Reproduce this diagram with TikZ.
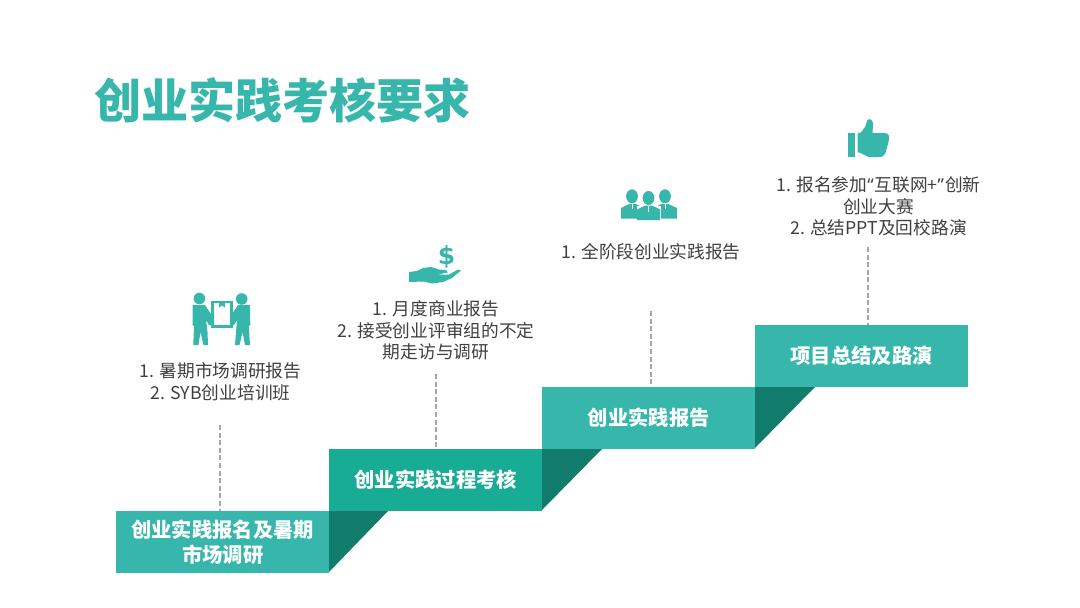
\documentclass[tikz,border=0pt]{standalone}
\usepackage{fontspec}
\setmainfont{Noto Sans CJK SC}
\newfontfamily\quotefont{Noto Sans}
\newfontfamily\dollarfont{DejaVu Sans}
\definecolor{teal1}{HTML}{37B7AB}
\definecolor{teal2}{HTML}{19AC94}
\definecolor{tealdark}{HTML}{127C6C}
\definecolor{bodytext}{HTML}{404040}
\definecolor{dashgray}{HTML}{A6A6A6}
\tikzset{
  stepbox/.style={rectangle,minimum width=213pt,minimum height=61.5pt,inner sep=0pt,anchor=north west,text=white,align=center,font=\fontsize{20.3}{25}\selectfont\bfseries},
  note/.style={anchor=center,align=center,inner sep=0pt,text=bodytext,font=\fontsize{17.7}{21.6}\selectfont},
  stem/.style={draw=dashgray,line width=2pt,dash pattern=on 5pt off 2.6pt},
  shade/.style={fill=tealdark,draw=none},
  icon/.style={fill=teal1,draw=none},
  gap/.style={draw=white,line width=.9pt}
}
\begin{document}
\begin{tikzpicture}[x=1pt,y=-1pt]
\useasboundingbox (0,0) rectangle (1080,608);
\fill[white] (0,0) rectangle (1080,608);
\node[anchor=west,inner sep=0pt,text=teal1,font=\fontsize{47.1}{50}\selectfont\bfseries] (title) at (94,100.5) {创业实践考核要求};

% steps
\node[stepbox,fill=teal1] (s1) at (116,511) {创业实践报名及暑期\\市场调研};
\node[stepbox,fill=teal2] (s2) at (329,449) {创业实践过程考核};
\node[stepbox,fill=teal1] (s3) at (542,387) {\raisebox{-1pt}{创业实践报告}};
\node[stepbox,fill=teal1] (s4) at (755,325) {\raisebox{-1pt}{项目总结及路演}};
\fill[shade] (329,511) -- (388,511) -- (329,572) -- cycle;
\fill[shade] (542,449) -- (602,449) -- (542,510) -- cycle;
\fill[shade] (755,387) -- (815,387) -- (755,448) -- cycle;

% stems
\coordinate (d1) at (220,425);
\coordinate (d2) at (436,374);
\coordinate (d3) at (651,311);
\coordinate (d4) at (868,247);
\draw[stem] (d1) -- (d1 |- s1.north);
\draw[stem] (d2) -- (d2 |- s2.north);
\draw[stem] (d3) -- (d3 |- s3.north);
\draw[stem] (d4) -- (d4 |- s4.north);

% notes
\node[note] (n1) at (220.5,381.5) {1. 暑期市场调研报告\\2. SYB创业培训班};
\node[note] (n2) at (436,330.5) {1. 月度商业报告\\2. 接受创业评审组的不定\\期走访与调研};
\node[note] (n3) at (651,251.5) {1. 全阶段创业实践报告};
\node[note] (n4) at (878.5,206.5) {1. 报名参加{\quotefont “\kern1pt}互联网+{\quotefont ”\kern1pt}创新\\创业大赛\\2. 总结PPT及回校路演};

% icon: two people carrying a box
\fill[icon] (199.4,298.5) circle (5.8);
\fill[icon] (241.7,299) circle (5.8);
\fill[icon] (192.7,305) -- (205,305) -- (213,317) -- (213,325) -- (209,325) -- (206,320) -- (207.5,332) -- (208,345) -- (203.5,345) -- (200.5,332) -- (198.5,345) -- (193.3,345) -- (194,326) -- (192.5,325) -- cycle;
\fill[icon] (250,305) -- (238,305) -- (230,317) -- (230,325) -- (234,325) -- (237,320) -- (236,332) -- (235,345) -- (239.5,345) -- (242.5,332) -- (245,345) -- (250,345) -- (248.8,326) -- (250.3,325) -- cycle;
\draw[teal1,line width=2.4pt] (212.3,302) rectangle (231.5,326.5);
\fill[teal1] (219,301) -- (225,301) -- (225,307.5) -- (222,305.5) -- (219,307.5) -- cycle;

% icon: hand and dollar
\node[inner sep=0pt,text=teal1,font=\dollarfont\fontsize{25}{25}\selectfont\bfseries] (dollar) at (446.5,257) {\$};
\fill[icon] (409,272) -- (417,271) -- (423,268) -- (431,267) -- (439,269.5) -- (446,270) -- (447.5,272.5) -- (438,274.5) -- (449,274.5) -- (458,269.5) -- (461,270.5) -- (452,278) -- (443,282) -- (432,283.5) -- (424,281.5) -- (409,282) -- cycle;

% icon: three people
\fill[icon] (632,196.3) ellipse (5.9 and 7);
\fill[icon] (665,196.3) ellipse (5.9 and 7);
\fill[icon] (621,218.5) -- (621,208) -- (629,204) -- (636,204) -- (644,208) -- (644,218.5) -- cycle;
\fill[icon] (654,218.5) -- (654,208) -- (661,204) -- (668,204) -- (677,208) -- (677,218.5) -- cycle;
\fill[white] (636.5,206) rectangle (660.5,221);
\fill[white] (648.5,198) ellipse (7.2 and 8.2);
\fill[icon] (648.5,198) ellipse (5.9 and 7);
\fill[icon] (637,220) -- (637,209.5) -- (645,205.5) -- (652,205.5) -- (660,209.5) -- (660,220) -- cycle;
\draw[gap] (648.5,205.5) -- (648.5,212);
\draw[gap] (632.5,204) -- (632.5,209);
\draw[gap] (665,204) -- (665,209);

% icon: thumb up
\fill[icon] (848,132.5) rectangle (854.5,157);
\fill[icon] (857.5,133.5) -- (861,132.5) -- (865,127) -- (867.5,120) .. controls (870,118) and (873,120) .. (873,124) -- (872.5,133) -- (885,133) .. controls (889,133) and (890,137) .. (888.5,142) -- (885.5,153) .. controls (885,156) and (882,157) .. (878,157) -- (869,157) .. controls (864,155) and (861,153) .. (857.5,152) -- cycle;
\end{tikzpicture}
\end{document}
